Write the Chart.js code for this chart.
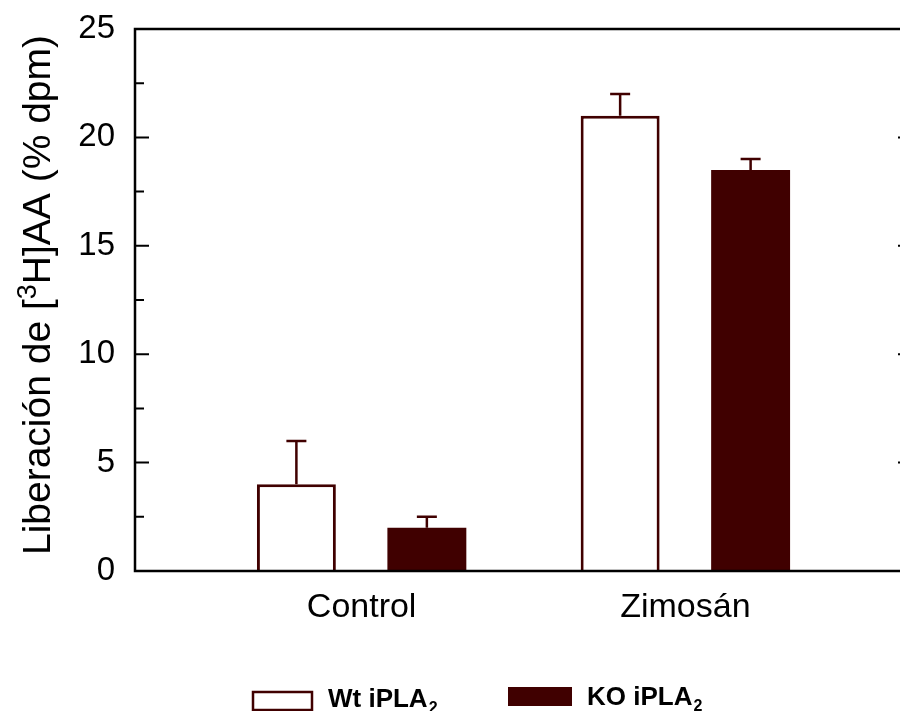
<!DOCTYPE html>
<html>
<head>
<meta charset="utf-8">
<script src="https://cdn.jsdelivr.net/npm/chart.js@4"></script>
<style>
  html, body { margin: 0; padding: 0; overflow: hidden; background: #fff; }
  canvas { display: block; }
</style>
</head>
<body>
<canvas id="chart" width="925" height="711"></canvas>
<script>
// Arachidonic acid release, wild type vs. iPLA2 knockout
const categories = ['Control', 'Zimosán'];
const categoryPositions = [1, 2];
const wtValues = [4, 21];
const wtErrors = [2, 1];
const koValues = [2, 18.5];
const koErrors = [0.5, 0.5];
const yMajorTicks = [0, 5, 10, 15, 20, 25];
const yMinorTicks = [2.5, 7.5, 12.5, 17.5, 22.5];
const seriesLabels = ['Wt iPLA', 'KO iPLA'];
const seriesSubscripts = ['2', '2'];

const DARK_RED = '#400000';
const FONT = '"Liberation Sans", Arial, Helvetica, sans-serif';

function points(values) {
  return categoryPositions.map((x, i) => ({ x: x, y: values[i] }));
}

const errorsByDataset = [wtErrors, koErrors];

// Error bars (upper whiskers), frame, inward tick marks, axis title and legend
const decorations = {
  id: 'decorations',
  afterDatasetsDraw(chart) {
    const ctx = chart.ctx;
    const y = chart.scales.y;
    ctx.save();
    ctx.strokeStyle = DARK_RED;
    ctx.lineWidth = 2.5;
    chart.data.datasets.forEach((ds, di) => {
      const meta = chart.getDatasetMeta(di);
      meta.data.forEach((bar, i) => {
        const top = y.getPixelForValue(ds.data[i].y + errorsByDataset[di][i]);
        ctx.beginPath();
        ctx.moveTo(bar.x, bar.y);
        ctx.lineTo(bar.x, top);
        ctx.moveTo(bar.x - 10, top);
        ctx.lineTo(bar.x + 10, top);
        ctx.stroke();
      });
    });
    ctx.restore();
  },
  afterDraw(chart) {
    const ctx = chart.ctx;
    const a = chart.chartArea;
    const y = chart.scales.y;
    ctx.save();

    // frame: left, bottom and top lines, right axis
    ctx.strokeStyle = '#000';
    ctx.lineWidth = 2.5;
    ctx.beginPath();
    ctx.moveTo(a.right, a.top);
    ctx.lineTo(a.left, a.top);
    ctx.lineTo(a.left, a.bottom);
    ctx.lineTo(a.right, a.bottom);
    ctx.moveTo(a.right, a.top);
    ctx.lineTo(a.right, a.bottom);
    ctx.stroke();

    // inward tick marks
    ctx.lineWidth = 2;
    ctx.beginPath();
    yMajorTicks.forEach(v => {
      const py = y.getPixelForValue(v);
      ctx.moveTo(a.left, py); ctx.lineTo(a.left + 14, py);
      ctx.moveTo(a.right, py); ctx.lineTo(a.right - 14, py);
    });
    yMinorTicks.forEach(v => {
      const py = y.getPixelForValue(v);
      ctx.moveTo(a.left, py); ctx.lineTo(a.left + 9, py);
    });
    ctx.stroke();

    // rotated y-axis title with superscript
    ctx.fillStyle = '#000';
    ctx.translate(50, 295);
    ctx.rotate(-Math.PI / 2);
    const big = '39px ' + FONT;
    const small = '27px ' + FONT;
    const parts = [
      { t: 'Liberación de [', f: big, dy: 0 },
      { t: '3', f: small, dy: -14 },
      { t: 'H]AA (% dpm)', f: big, dy: 0 }
    ];
    let total = 0;
    parts.forEach(p => { ctx.font = p.f; p.w = ctx.measureText(p.t).width; total += p.w; });
    let x = -total / 2;
    ctx.textBaseline = 'alphabetic';
    ctx.textAlign = 'left';
    parts.forEach(p => { ctx.font = p.f; ctx.fillText(p.t, x, p.dy); x += p.w; });
    ctx.restore();

    // legend
    ctx.save();
    ctx.strokeStyle = DARK_RED;
    ctx.fillStyle = '#fff';
    ctx.lineWidth = 2.5;
    ctx.fillRect(253, 692, 59, 18);
    ctx.strokeRect(253, 692, 59, 18);
    ctx.fillStyle = DARK_RED;
    ctx.fillRect(508, 687, 64, 19);

    const legendText = [
      { x: 328, base: 707 },
      { x: 587, base: 705 }
    ];
    ctx.fillStyle = '#000';
    ctx.textBaseline = 'alphabetic';
    seriesLabels.forEach((label, i) => {
      ctx.font = 'bold 26px ' + FONT;
      ctx.fillText(label, legendText[i].x, legendText[i].base);
      const w = ctx.measureText(label).width;
      ctx.font = 'bold 16px ' + FONT;
      ctx.fillText(seriesSubscripts[i], legendText[i].x + w + 1, legendText[i].base + 6);
    });
    ctx.restore();
  }
};

new Chart(document.getElementById('chart'), {
  type: 'bar',
  data: {
    datasets: [
      {
        label: seriesLabels[0] + seriesSubscripts[0],
        data: points(wtValues),
        backgroundColor: '#ffffff',
        borderColor: DARK_RED,
        borderWidth: 3,
        categoryPercentage: 0.806,
        barPercentage: 0.605
      },
      {
        label: seriesLabels[1] + seriesSubscripts[1],
        data: points(koValues),
        backgroundColor: DARK_RED,
        borderColor: DARK_RED,
        borderWidth: 0,
        categoryPercentage: 0.806,
        barPercentage: 0.605
      }
    ]
  },
  options: {
    responsive: false,
    animation: false,
    layout: { padding: { top: 29, right: 13, left: 0, bottom: 0 } },
    plugins: { legend: { display: false }, tooltip: { enabled: false } },
    scales: {
      x: {
        type: 'linear',
        offset: false,
        min: 0.3,
        max: 2.7,
        grid: { display: false, drawTicks: false },
        border: { display: false },
        afterBuildTicks: s => { s.ticks = categoryPositions.map(v => ({ value: v })); },
        afterFit: s => { s.height = 140; s.paddingLeft = 0; s.paddingRight = 0; },
        ticks: {
          callback: v => { const i = categoryPositions.indexOf(v); return i >= 0 ? categories[i] : ''; },
          autoSkip: false,
          maxRotation: 0,
          color: '#000',
          padding: 16,
          font: { family: FONT, size: 34 }
        }
      },
      y: {
        min: 0,
        max: 25,
        grid: { display: false, drawTicks: false },
        border: { display: false },
        afterBuildTicks: s => { s.ticks = yMajorTicks.map(v => ({ value: v })); },
        afterFit: s => { s.width = 135; s.paddingTop = 0; s.paddingBottom = 0; },
        ticks: {
          color: '#000',
          padding: 20,
          font: { family: FONT, size: 33 }
        }
      }
    }
  },
  plugins: [decorations]
});
</script>
</body>
</html>
